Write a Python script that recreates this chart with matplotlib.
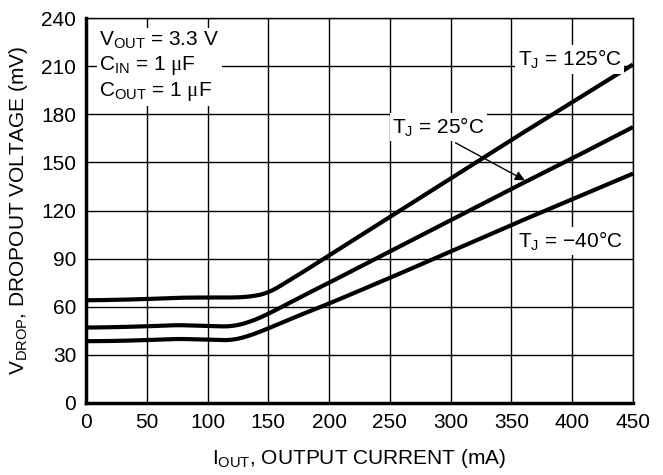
#!/usr/bin/env python3

import numpy as np
import matplotlib as mpl
mpl.use('Agg')
import matplotlib.pyplot as plt

#~~~~~~~~~~~~ Data ~~~~~~~~~~~~~~~~~~~~~~~

# output current (mA)
i_out = [0, 25, 50, 75, 100, 120, 135, 150, 175, 200, 250, 300, 350, 400, 450]

# dropout voltage (mV) per junction temperature
v_125 = [64.0, 64.3, 64.8, 65.6, 65.8, 65.7, 66.2, 68.5, 80.0, 92.0, 116.0, 140.0, 164.0, 187.5, 211.0]
v_25 = [47.0, 47.3, 47.8, 48.6, 48.0, 47.6, 50.5, 55.5, 65.5, 75.0, 94.5, 114.0, 133.5, 152.5, 172.0]
v_m40 = [38.5, 38.7, 39.2, 40.0, 39.5, 39.0, 42.0, 46.5, 54.5, 62.0, 78.0, 94.5, 111.0, 127.0, 143.0]

xticks = [0, 50, 100, 150, 200, 250, 300, 350, 400, 450]
yticks = [0, 30, 60, 90, 120, 150, 180, 210, 240]

#~~~~~~~~~~~~~~~~~~~~~~~~~~~~~~~~~~~~~~~~~~~

fs = 15
mpl.rcParams['font.family'] = ['Liberation Sans', 'DejaVu Sans']
mpl.rcParams['mathtext.fontset'] = 'custom'
mpl.rcParams['mathtext.rm'] = 'Liberation Sans'
mpl.rcParams['mathtext.it'] = 'Liberation Serif'
mpl.rcParams['font.size'] = fs

fig = plt.figure(figsize=(6.63, 4.75), dpi=100)
ax = fig.add_axes([86/663, 1-403/475, (633-86)/663, (403-18)/475])

ax.set_xlim(0, 450)
ax.set_ylim(0, 240)
ax.set_xticks(xticks)
ax.set_yticks(yticks)
ax.grid(True, color='black', linewidth=1.0)
ax.set_axisbelow(True)
ax.tick_params(length=0, pad=7, labelsize=fs)

for side in ['top', 'right']:
	ax.spines[side].set_linewidth(1.0)
for side in ['left', 'bottom']:
	ax.spines[side].set_linewidth(2.5)

def smooth(x, y):
	# round off the knees of the read points with a short moving average
	xs = np.linspace(x[0], x[-1], 400)
	ys = np.interp(xs, x, y)
	k = np.ones(15)/15
	pad = np.concatenate([np.full(7, ys[0]), ys, np.full(7, ys[-1])])
	ys2 = np.convolve(pad, k, mode='valid')
	ys2[-20:] = ys[-20:]
	return xs, ys2

for v in [v_125, v_25, v_m40]:
	xs, ys = smooth(i_out, v)
	ax.plot(xs, ys, color='black', linewidth=3, solid_capstyle='butt', clip_on=False, zorder=3)

box = dict(facecolor='white', edgecolor='none', pad=2)

ax.text(11, 233, '$\\mathregular{V_{OUT}}$ = 3.3 V\n$\\mathregular{C_{IN}}$ = 1 $\\mu$F\n$\\mathregular{C_{OUT}}$ = 1 $\\mu$F',
	ha='left', va='top', fontsize=fs, linespacing=1.2, bbox=box, zorder=4)

ax.text(398, 214, '$\\mathregular{T_J}$ = 125\u00b0C', ha='center', va='center', fontsize=fs, bbox=box, zorder=4)
ax.text(290, 172, '$\\mathregular{T_J}$ = 25\u00b0C', ha='center', va='center', fontsize=fs, bbox=box, zorder=4)
ax.text(398, 101, '$\\mathregular{T_J}$ = \u221240\u00b0C', ha='center', va='center', fontsize=fs, bbox=box, zorder=4)

ax.annotate('', xy=(363, 138), xytext=(302, 163),
	arrowprops=dict(arrowstyle='-|>', color='black', lw=1.0, mutation_scale=14), zorder=5)

ax.set_xlabel('$\\mathregular{I_{OUT}}$, OUTPUT CURRENT (mA)', fontsize=fs, labelpad=11)
ax.set_ylabel('$\\mathregular{V_{DROP}}$, DROPOUT VOLTAGE (mV)', fontsize=fs, labelpad=8)

plt.savefig('out.png', dpi=100)
